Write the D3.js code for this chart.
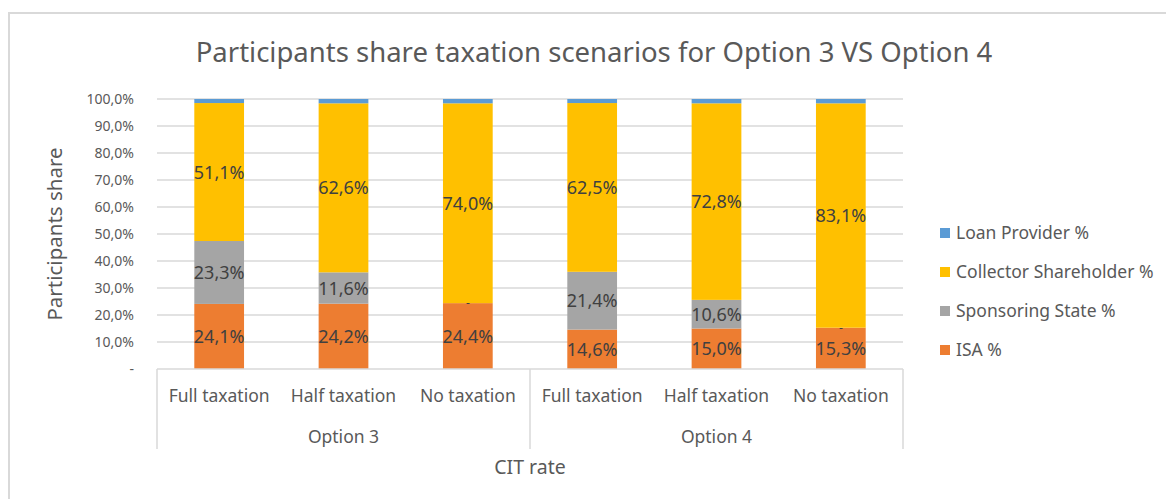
<!DOCTYPE html>
<html>
<head>
<meta charset="utf-8">
<script src="https://cdn.jsdelivr.net/npm/d3@7"></script>
<style>
  body { margin: 0; background: #fff; }
  svg text { font-family: "Noto Sans", "Open Sans", sans-serif; }
</style>
</head>
<body>
<svg id="chart" width="1166" height="499"></svg>
<script>
// data
const scenarios = ["Full taxation", "Half taxation", "No taxation", "Full taxation", "Half taxation", "No taxation"];
const optionNames = ["Option 3", "Option 4"];
const isa = [24.1, 24.2, 24.4, 14.6, 15.0, 15.3];
const sponsoringState = [23.3, 11.6, 0, 21.4, 10.6, 0];
const collector = [51.1, 62.6, 74.0, 62.5, 72.8, 83.1];
const loanProvider = [1.5, 1.6, 1.6, 1.5, 1.6, 1.6];
const seriesNames = ["ISA %", "Sponsoring State %", "Collector Shareholder %", "Loan Provider %"];
const seriesColors = ["#ed7d31", "#a5a5a5", "#ffc000", "#5b9bd5"];
const yTicks = [0, 10, 20, 30, 40, 50, 60, 70, 80, 90, 100];

const svg = d3.select("#chart");
const margin = { left: 157, right: 903, top: 99, bottom: 369 };
const pct = v => d3.format(".1f")(v).replace(".", ",") + "%";

// chart frame
svg.append("rect")
  .attr("x", 9).attr("y", 13)
  .attr("width", 1170).attr("height", 500)
  .attr("fill", "none").attr("stroke", "#d9d9d9").attr("stroke-width", 2);

svg.append("text")
  .attr("x", 594).attr("y", 62)
  .attr("text-anchor", "middle")
  .attr("font-size", 27.5)
  .attr("fill", "#595959")
  .text("Participants share taxation scenarios for Option 3 VS Option 4");

const x = d3.scaleBand()
  .domain(d3.range(scenarios.length))
  .range([margin.left, margin.right])
  .paddingInner(0.6).paddingOuter(0.3);

const y = d3.scaleLinear().domain([0, 100]).range([margin.bottom, margin.top]);

// gridlines
svg.append("g")
  .selectAll("line")
  .data(yTicks.slice(1))
  .join("line")
  .attr("x1", margin.left).attr("x2", margin.right)
  .attr("y1", d => y(d)).attr("y2", d => y(d))
  .attr("stroke", "#d9d9d9").attr("stroke-width", 1.5);

// y tick labels
svg.append("g")
  .selectAll("text")
  .data(yTicks)
  .join("text")
  .attr("x", 134)
  .attr("y", d => y(d) + 5)
  .attr("text-anchor", "end")
  .attr("font-size", 14)
  .attr("fill", "#595959")
  .text(d => d === 0 ? "-" : pct(d));

svg.append("text")
  .attr("transform", "translate(62,234) rotate(-90)")
  .attr("text-anchor", "middle")
  .attr("font-size", 20.5)
  .attr("fill", "#595959")
  .text("Participants share");

// stacked data
const rows = scenarios.map((s, i) => ({
  i: i,
  "ISA %": isa[i],
  "Sponsoring State %": sponsoringState[i],
  "Collector Shareholder %": collector[i],
  "Loan Provider %": loanProvider[i]
}));
const stacked = d3.stack().keys(seriesNames)(rows);

const layers = svg.append("g")
  .selectAll("g")
  .data(stacked)
  .join("g")
  .attr("fill", (d, k) => seriesColors[k]);

layers.selectAll("rect")
  .data(d => d)
  .join("rect")
  .attr("x", d => x(d.data.i))
  .attr("width", x.bandwidth())
  .attr("y", d => y(d[1]))
  .attr("height", d => y(d[0]) - y(d[1]));

// data labels (not for loan provider); zero segments get a small dash
stacked.slice(0, 3).forEach(layer => {
  svg.append("g")
    .selectAll("text")
    .data(layer)
    .join("text")
    .attr("x", d => x(d.data.i) + x.bandwidth() / 2)
    .attr("y", d => (d[1] - d[0]) === 0 ? y(d[1]) + 4 : y((d[0] + d[1]) / 2) + 6.5)
    .attr("text-anchor", "middle")
    .attr("font-size", d => (d[1] - d[0]) === 0 ? 12 : 18)
    .attr("fill", "#404040")
    .text(d => {
      const v = d[1] - d[0];
      return v === 0 ? "-" : pct(v);
    });
});

// category axis
const axis = svg.append("g").attr("stroke", "#d9d9d9").attr("stroke-width", 1.5);
axis.append("line")
  .attr("x1", margin.left).attr("x2", margin.right)
  .attr("y1", margin.bottom).attr("y2", margin.bottom);
const groupEdges = [margin.left, (x(2) + x.bandwidth() + x(3)) / 2, margin.right];
axis.selectAll("line.sep")
  .data(groupEdges)
  .join("line")
  .attr("class", "sep")
  .attr("x1", d => d).attr("x2", d => d)
  .attr("y1", margin.bottom).attr("y2", 449);

svg.append("g")
  .selectAll("text")
  .data(scenarios)
  .join("text")
  .attr("x", (d, i) => x(i) + x.bandwidth() / 2)
  .attr("y", 402)
  .attr("text-anchor", "middle")
  .attr("font-size", 17.5)
  .attr("fill", "#595959")
  .text(d => d);

svg.append("g")
  .selectAll("text")
  .data(optionNames)
  .join("text")
  .attr("x", (d, k) => (groupEdges[k] + groupEdges[k + 1]) / 2)
  .attr("y", 443)
  .attr("text-anchor", "middle")
  .attr("font-size", 17.5)
  .attr("fill", "#595959")
  .text(d => d);

svg.append("text")
  .attr("x", 530).attr("y", 474)
  .attr("text-anchor", "middle")
  .attr("font-size", 19.5)
  .attr("fill", "#595959")
  .text("CIT rate");

// legend
const legendOrder = [3, 2, 1, 0];
const lg = svg.append("g")
  .selectAll("g")
  .data(legendOrder)
  .join("g")
  .attr("transform", (k, j) => `translate(940,${233 + j * 39})`);
lg.append("rect")
  .attr("x", 0).attr("y", -5)
  .attr("width", 10).attr("height", 10)
  .attr("fill", k => seriesColors[k]);
lg.append("text")
  .attr("x", 16).attr("y", 6)
  .attr("font-size", 17.5)
  .attr("fill", "#595959")
  .text(k => seriesNames[k]);
</script>
</body>
</html>
